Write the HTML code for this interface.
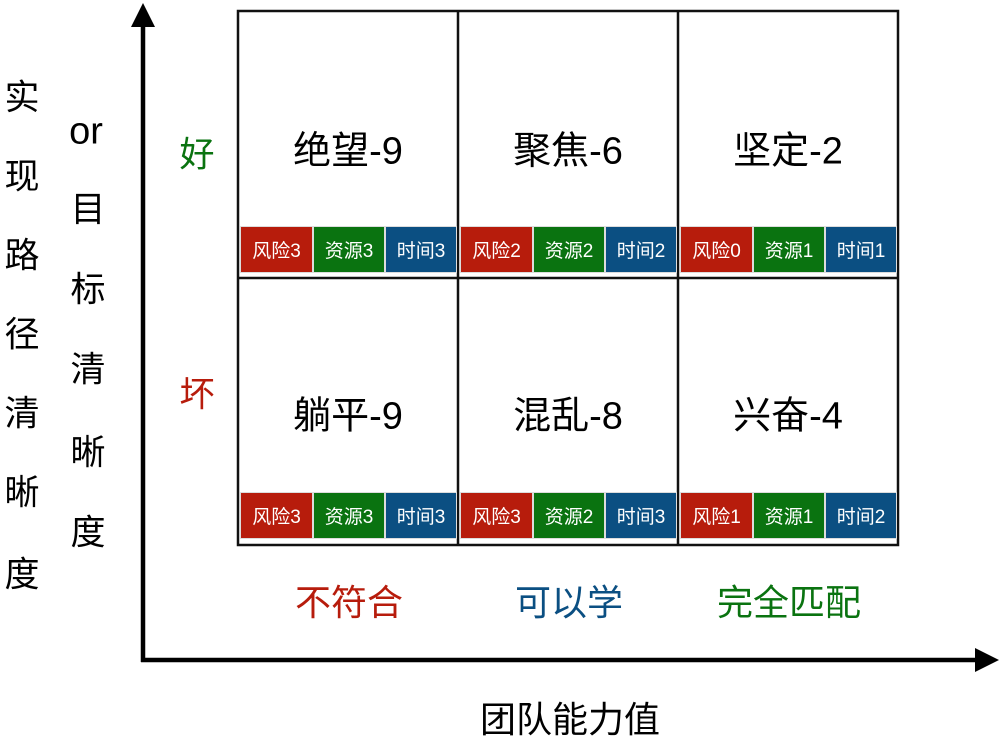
<!DOCTYPE html>
<html><head><meta charset="utf-8"><style>
body{margin:0;width:1000px;height:746px;background:#fff;position:relative;overflow:hidden;font-family:"Liberation Sans","Noto Sans CJK SC",sans-serif}
.a{position:absolute;white-space:nowrap}
.c{position:absolute;transform:translate(-50%,-50%);white-space:nowrap}
.bar{position:absolute;height:47px;color:#fff;font-size:19px;display:flex;align-items:center;justify-content:center;box-sizing:border-box;border:1px solid #ddd}
.r{background:#b71c0c}.g{background:#0a7310}.b{background:#0b4f82}
.s{font-size:35px}
</style></head><body>
<svg class="a" style="left:0;top:0" width="1000" height="746">
<line x1="143" y1="24" x2="143" y2="662" stroke="#000" stroke-width="4.5"/>
<polygon points="143,3 131,27 155,27" fill="#000"/>
<line x1="141" y1="660" x2="978" y2="660" stroke="#000" stroke-width="4.5"/>
<polygon points="999,660 975,648 975,672" fill="#000"/>
<g stroke="#111" stroke-width="2.5" fill="none">
<rect x="238" y="11" width="660" height="534"/>
<line x1="458" y1="11" x2="458" y2="545"/><line x1="678" y1="11" x2="678" y2="545"/>
<line x1="238" y1="278" x2="898" y2="278"/>
</g>
</svg>
<div id="bars"></div>
<script>
const data=[[[3,3,3],[2,2,2],[0,1,1]],[[3,3,3],[3,2,3],[1,1,2]]];
let h='';
for(let r=0;r<2;r++)for(let c=0;c<3;c++){const x=240+c*220,y=r?492:226,v=data[r][c];
h+=`<div class="bar r" style="left:${x}px;top:${y}px;width:73px">风险${v[0]}</div><div class="bar g" style="left:${x+73}px;top:${y}px;width:72px">资源${v[1]}</div><div class="bar b" style="left:${x+145}px;top:${y}px;width:72px">时间${v[2]}</div>`;}
document.getElementById('bars').innerHTML=h;
</script>
<div class="c" style="left:348px;top:147px;font-size:38px">绝望-9</div>
<div class="c" style="left:568px;top:147px;font-size:38px">聚焦-6</div>
<div class="c" style="left:788px;top:147px;font-size:38px">坚定-2</div>
<div class="c" style="left:348px;top:412px;font-size:38px">躺平-9</div>
<div class="c" style="left:568px;top:412px;font-size:38px">混乱-8</div>
<div class="c" style="left:788px;top:412px;font-size:38px">兴奋-4</div>
<div class="c" style="left:349px;top:600px;font-size:36px;color:#b71c0c">不符合</div>
<div class="c" style="left:569px;top:600px;font-size:36px;color:#0b4f82">可以学</div>
<div class="c" style="left:789px;top:600px;font-size:36px;color:#0a7310">完全匹配</div>
<div class="c" style="left:570px;top:717px;font-size:36px">团队能力值</div>
<div class="c" style="left:197px;top:152px;font-size:35px;color:#0a7310">好</div>
<div class="c" style="left:197px;top:392px;font-size:35px;color:#b71c0c">坏</div>
<div class="c" style="left:86px;top:132px;font-size:38px">or</div>
<div class="c s" style="left:22px;top:95px">实</div>
<div class="c s" style="left:22px;top:174px">现</div>
<div class="c s" style="left:22px;top:253px">路</div>
<div class="c s" style="left:22px;top:332px">径</div>
<div class="c s" style="left:22px;top:411px">清</div>
<div class="c s" style="left:22px;top:490px">晰</div>
<div class="c s" style="left:22px;top:572px">度</div>
<div class="c s" style="left:88px;top:207px">目</div>
<div class="c s" style="left:88px;top:287px">标</div>
<div class="c s" style="left:88px;top:367px">清</div>
<div class="c s" style="left:88px;top:450px">晰</div>
<div class="c s" style="left:88px;top:530px">度</div>
</body></html>
